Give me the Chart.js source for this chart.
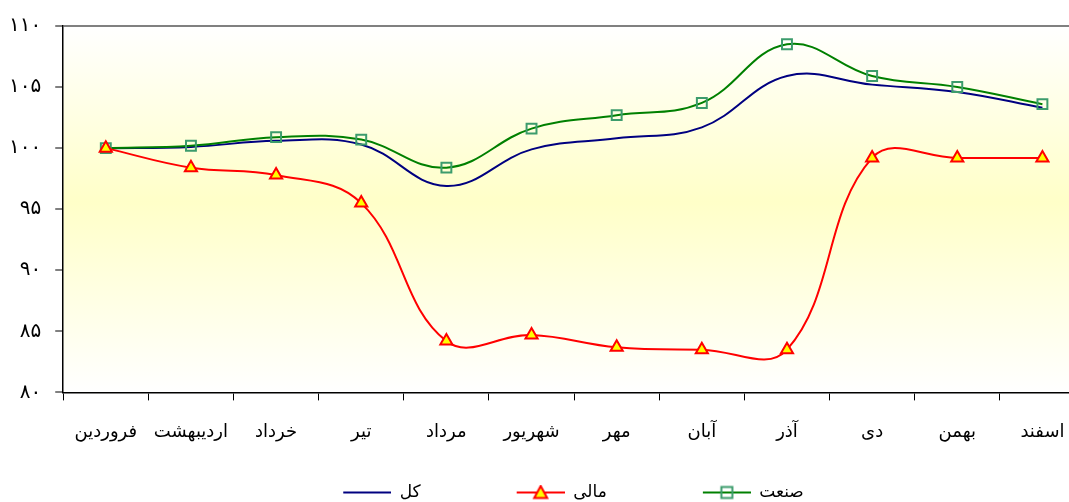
<!DOCTYPE html>
<html>
<head>
<meta charset="utf-8">
<script src="https://cdn.jsdelivr.net/npm/chart.js@4/dist/chart.umd.min.js"></script>
<style>
  html, body { margin: 0; padding: 0; background: #fff; overflow: hidden; }
  #wrap { width: 1069px; height: 502px; overflow: hidden; }
</style>
</head>
<body>
<div id="wrap"><canvas id="c" width="1094" height="502"></canvas></div>
<script>
// ماه‌ها
const months = ['فروردین', 'اردیبهشت', 'خرداد', 'تیر', 'مرداد', 'شهریور', 'مهر', 'آبان', 'آذر', 'دی', 'بهمن', 'اسفند'];
const kol   = [100, 100.1, 100.6, 100.3, 96.9, 99.9, 100.8, 101.7, 105.9, 105.2, 104.6, 103.3];
const mali  = [100, 98.4, 97.8, 95.5, 84.2, 84.7, 83.7, 83.5, 83.5, 99.2, 99.2, 99.2];
const sanat = [100, 100.2, 100.9, 100.7, 98.4, 101.6, 102.7, 103.7, 108.5, 105.9, 105.0, 103.6];
const seriesNames = ['کل', 'مالی', 'صنعت'];

const faDigits = '۰۱۲۳۴۵۶۷۸۹';
const toFa = n => String(n).replace(/\d/g, d => faDigits[d]);

// legend icon: empty gap on the left, then line with marker
const ICON_W = 144, LINE_W = 48;
function legendIcon(color, marker, mFill, mStroke) {
    const cv = document.createElement('canvas');
    cv.width = ICON_W; cv.height = 16;
    const g = cv.getContext('2d');
    const x0 = ICON_W - LINE_W, cx = x0 + LINE_W / 2;
    g.strokeStyle = color; g.lineWidth = 2;
    g.beginPath(); g.moveTo(x0, 8); g.lineTo(ICON_W, 8); g.stroke();
    if (marker === 'triangle') {
        g.fillStyle = mFill; g.strokeStyle = mStroke;
        g.beginPath(); g.moveTo(cx, 1.5); g.lineTo(cx + 6.5, 13.5); g.lineTo(cx - 6.5, 13.5); g.closePath();
        g.fill(); g.stroke();
    } else if (marker === 'rect') {
        g.strokeStyle = mStroke;
        g.strokeRect(cx - 5.5, 2.5, 11, 11);
    }
    return cv;
}

const bgPlugin = {
    id: 'bg',
    beforeDraw(chart) {
        const { ctx, chartArea: a } = chart;
        const grad = ctx.createLinearGradient(0, a.top, 0, a.bottom);
        grad.addColorStop(0, '#ffffff');
        grad.addColorStop(0.48, '#ffffc8');
        grad.addColorStop(1, '#ffffff');
        ctx.save();
        ctx.fillStyle = grad;
        ctx.fillRect(a.left, a.top, a.right - a.left, a.bottom - a.top);
        ctx.restore();
    }
};

// nudge legend a bit lower and to the left
const legendNudge = {
    id: 'legendNudge',
    afterLayout(chart) {
        chart.legend.top += 9;
        chart.legend.right -= 38;
    }
};

const icons = [
    legendIcon('#000080', null),
    legendIcon('#ff0000', 'triangle', '#ffff00', '#ff0000'),
    legendIcon('#008000', 'rect', null, '#3c9c6c')
];

new Chart(document.getElementById('c'), {
    type: 'line',
    data: {
        labels: months,
        datasets: [
            { label: seriesNames[0], data: kol, borderColor: '#000080', borderWidth: 2, pointRadius: 0, tension: 0.4, order: 2 },
            { label: seriesNames[1], data: mali, borderColor: '#ff0000', borderWidth: 2, tension: 0.4, order: 0,
              pointStyle: 'triangle', pointRadius: 7, pointBackgroundColor: '#ffff00', pointBorderColor: '#ff0000', pointBorderWidth: 2 },
            { label: seriesNames[2], data: sanat, borderColor: '#008000', borderWidth: 2, tension: 0.4, order: 1,
              pointStyle: 'rect', pointRadius: 7, pointBackgroundColor: 'rgba(0,0,0,0)', pointBorderColor: '#3c9c6c', pointBorderWidth: 2 }
        ]
    },
    options: {
        responsive: false,
        animation: false,
        layout: { padding: { top: 12, left: -5, right: 0, bottom: 0 } },
        scales: {
            x: {
                offset: true,
                grid: { offset: true, drawOnChartArea: false, tickLength: 8, tickColor: '#000', tickWidth: 1 },
                border: { color: '#000', width: 1.5 },
                ticks: { color: '#000', font: { family: 'DejaVu Sans', size: 18 }, padding: 21, maxRotation: 0, autoSkip: false },
                afterFit: s => { s.height += 11; }
            },
            y: {
                min: 80, max: 110,
                grid: {
                    color: ctx => ctx.tick && ctx.tick.value === 110 ? '#808080' : 'rgba(0,0,0,0)',
                    lineWidth: 2, tickColor: '#808080', tickLength: 8
                },
                border: { color: '#000', width: 1.5 },
                ticks: { stepSize: 5, color: '#000', font: { family: 'DejaVu Sans', size: 20 }, padding: 14, callback: v => toFa(v) }
            }
        },
        plugins: {
            tooltip: { enabled: false },
            legend: {
                position: 'bottom',
                fullSize: true,
                labels: {
                    usePointStyle: true,
                    pointStyleWidth: ICON_W,
                    padding: 0,
                    color: '#000',
                    font: { family: 'DejaVu Sans', size: 17 },
                    generateLabels: chart => chart.data.datasets.map((ds, i) => ({
                        text: ds.label, pointStyle: icons[i], fillStyle: ds.borderColor,
                        strokeStyle: ds.borderColor, lineWidth: 0, hidden: false, datasetIndex: i, fontColor: '#000'
                    }))
                }
            }
        }
    },
    plugins: [bgPlugin, legendNudge]
});
</script>
</body>
</html>
